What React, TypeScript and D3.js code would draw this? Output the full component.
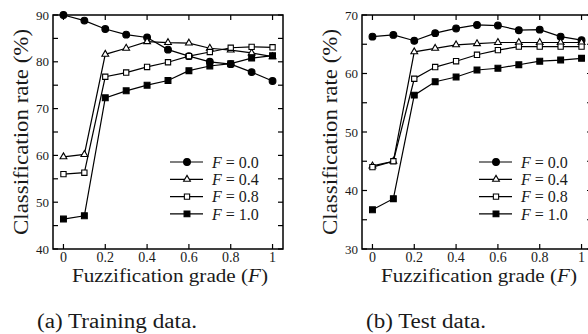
import * as d3 from 'd3'

// Fuzzification grade on the x axis
const grades = [0, 0.1, 0.2, 0.3, 0.4, 0.5, 0.6, 0.7, 0.8, 0.9, 1.0]
const seriesNames = ['0.0', '0.4', '0.8', '1.0']

// (a) training data, classification rate (%)
const trainF00 = [90.0, 88.8, 87.0, 85.8, 85.2, 82.6, 81.2, 80.0, 79.5, 77.8, 75.9]
const trainF04 = [59.7, 60.2, 81.6, 82.9, 84.3, 84.1, 84.0, 82.9, 82.5, 81.9, 81.1]
const trainF08 = [56.0, 56.3, 76.8, 77.7, 78.9, 79.9, 81.2, 82.1, 83.0, 83.2, 83.1]
const trainF10 = [46.4, 47.1, 72.3, 73.8, 75.0, 76.0, 78.1, 79.1, 79.6, 80.8, 81.3]

// (b) test data, classification rate (%)
const testF00 = [66.3, 66.6, 65.6, 66.9, 67.7, 68.3, 68.2, 67.4, 67.5, 66.3, 65.7]
const testF04 = [44.2, 45.0, 63.7, 64.3, 64.9, 65.1, 65.3, 65.3, 65.3, 65.3, 65.3]
const testF08 = [44.0, 45.0, 59.1, 61.1, 62.1, 63.2, 64.0, 64.6, 64.6, 64.6, 64.6]
const testF10 = [36.7, 38.6, 56.3, 58.6, 59.4, 60.6, 60.9, 61.5, 62.1, 62.3, 62.6]

const xTicks = [0, 0.2, 0.4, 0.6, 0.8, 1]
const trainYTicks = [40, 50, 60, 70, 80, 90]
const testYTicks = [30, 40, 50, 60, 70]

const symbols = [d3.symbolCircle, d3.symbolTriangle, d3.symbolSquare, d3.symbolSquare]
const filled = [true, false, false, true]
const sizes = [36, 20, 28, 34]

const serif = 'Liberation Serif'
const ink = '#1a1a1a'

interface PanelProps {
  left: number
  series: number[][]
  yDomain: [number, number]
  yTicks: number[]
  caption: string
  captionWidth: number
}

function Panel({ left, series, yDomain, yTicks, caption, captionWidth }: PanelProps) {
  const top = 15
  const bottom = 249
  const width = 230
  const right = left + width

  const x = d3.scaleLinear().domain([-0.05, 1.05]).range([left, right])
  const y = d3.scaleLinear().domain(yDomain).range([bottom, top])
  const line = d3.line<number>().x((_, i) => x(grades[i])).y(d => y(d))

  const minor = d3.range(yDomain[0], yDomain[1] + 0.1, 5)
  const tick = 5

  return (
    <g fontFamily={serif} fill={ink}>
      {/* frame */}
      <rect x={left} y={top} width={width} height={bottom - top} fill="none" stroke="#000" strokeWidth={1.5} />

      {/* y ticks, both sides, inward */}
      {minor.map(v => (
        <g key={'yt' + v}>
          <line x1={left} x2={left + tick} y1={y(v)} y2={y(v)} stroke="#000" strokeWidth={1.2} />
          <line x1={right} x2={right - tick} y1={y(v)} y2={y(v)} stroke="#000" strokeWidth={1.2} />
        </g>
      ))}
      {yTicks.map(v => (
        <text key={'yl' + v} x={left - 4} y={y(v)} dy="0.35em" textAnchor="end" fontSize={13}>{v}</text>
      ))}

      {/* x ticks, top and bottom, inward */}
      {xTicks.map(v => (
        <g key={'xt' + v}>
          <line x1={x(v)} x2={x(v)} y1={bottom} y2={bottom - tick} stroke="#000" strokeWidth={1.2} />
          <line x1={x(v)} x2={x(v)} y1={top} y2={top + tick} stroke="#000" strokeWidth={1.2} />
          <text x={x(v)} y={bottom + 13} textAnchor="middle" fontSize={14}>{v}</text>
        </g>
      ))}

      {/* axis titles */}
      <text transform={`translate(${left - 25},132) rotate(-90)`} textAnchor="middle"
        fontSize={20} textLength={206} lengthAdjust="spacingAndGlyphs">
        Classification rate (%)
      </text>
      <text x={left + 117} y={282} textAnchor="middle" fontSize={19}
        textLength={196} lengthAdjust="spacingAndGlyphs">
        Fuzzification grade (<tspan fontStyle="italic">F</tspan>)
      </text>

      {/* series */}
      {series.map((vals, s) => (
        <g key={'s' + s}>
          <path d={line(vals) ?? ''} fill="none" stroke="#000" strokeWidth={1.2} />
          {vals.map((v, i) => (
            <path key={i} transform={`translate(${x(grades[i])},${y(v)})`}
              d={d3.symbol(symbols[s], sizes[s])() ?? ''}
              fill={filled[s] ? '#000' : '#fff'} stroke="#000" strokeWidth={1.1} />
          ))}
        </g>
      ))}

      {/* legend */}
      {seriesNames.map((name, s) => {
        const ly = 162 + s * 17.3
        const lx = left + 117
        return (
          <g key={'lg' + s}>
            <line x1={lx} x2={lx + 33} y1={ly} y2={ly} stroke="#000" strokeWidth={1.2} />
            <path transform={`translate(${lx + 17},${ly})`} d={d3.symbol(symbols[s], sizes[s])() ?? ''}
              fill={filled[s] ? '#000' : '#fff'} stroke="#000" strokeWidth={1.1} />
            <text x={lx + 42} y={ly} dy="0.35em" fontSize={16}>
              <tspan fontStyle="italic">F</tspan> = {name}
            </text>
          </g>
        )
      })}

      {/* caption */}
      <text x={left + 64} y={328} textAnchor="middle" fontSize={20}
        textLength={captionWidth} lengthAdjust="spacingAndGlyphs">{caption}</text>
    </g>
  )
}

export default function App() {
  return (
    <svg width={588} height={334} style={{ position: 'absolute', left: 0, top: 0, background: '#fff' }}>
      <Panel left={53} series={[trainF00, trainF04, trainF08, trainF10]} yDomain={[40, 90]}
        yTicks={trainYTicks} caption="(a) Training data." captionWidth={160} />
      <Panel left={362} series={[testF00, testF04, testF08, testF10]} yDomain={[30, 70]}
        yTicks={testYTicks} caption="(b) Test data." captionWidth={120} />
    </svg>
  )
}
